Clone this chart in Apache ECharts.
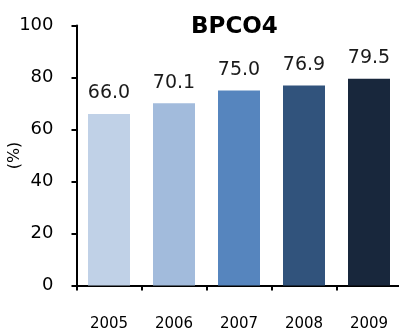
<!DOCTYPE html>
<html>
<head>
<meta charset="utf-8">
<script src="https://cdn.jsdelivr.net/npm/echarts@6/dist/echarts.min.js"></script>
<style>
html,body{margin:0;padding:0;background:#fff;}
#chart{width:399px;height:331px;}
</style>
</head>
<body>
<div id="chart"></div>
<script>
// Yearly shares for BPCO4
const years = ['2005', '2006', '2007', '2008', '2009'];
const values = [66.0, 70.1, 75.0, 76.9, 79.5];
const barColors = ['#c0d1e7', '#a2bbdc', '#5685be', '#31537c', '#18273c'];
const yTicks = { min: 0, max: 100, step: 20 };

const font = 'DejaVu Sans, Verdana, sans-serif';
const chart = echarts.init(document.getElementById('chart'));

chart.setOption({
  animation: false,
  title: {
    text: 'BPCO4',
    left: 186,
    top: 11,
    textStyle: { fontFamily: font, fontSize: 23, fontWeight: 'bold', color: '#000' }
  },
  grid: { left: 76.5, top: 25.5, bottom: 45.5, width: 325, outerBoundsMode: 'none', containLabel: false },
  xAxis: {
    type: 'category',
    data: years,
    axisLine: { lineStyle: { color: '#000', width: 2 } },
    axisTick: { show: true, length: 5, lineStyle: { color: '#000', width: 2 } },
    axisLabel: { fontFamily: font, fontSize: 15, color: '#000', margin: 31 }
  },
  yAxis: {
    type: 'value',
    min: yTicks.min,
    max: yTicks.max,
    interval: yTicks.step,
    name: '(%)',
    nameLocation: 'middle',
    nameRotate: 90,
    nameGap: 54,
    nameMoveOverlap: false,
    nameTextStyle: { fontFamily: font, fontSize: 16, color: '#000' },
    splitLine: { show: false },
    axisLine: { show: true, lineStyle: { color: '#000', width: 2 } },
    axisTick: { show: true, length: 5, lineStyle: { color: '#000', width: 2 } },
    axisLabel: { fontFamily: font, fontSize: 18, color: '#000', margin: 23 }
  },
  series: [{
    type: 'bar',
    barWidth: 42,
    data: values.map((v, i) => ({ value: v, itemStyle: { color: barColors[i] } })),
    label: {
      show: true,
      position: 'top',
      distance: 11,
      fontFamily: font,
      fontSize: 19,
      color: '#1a1a1a',
      formatter: p => p.value.toFixed(1)
    }
  }]
});
</script>
</body>
</html>
